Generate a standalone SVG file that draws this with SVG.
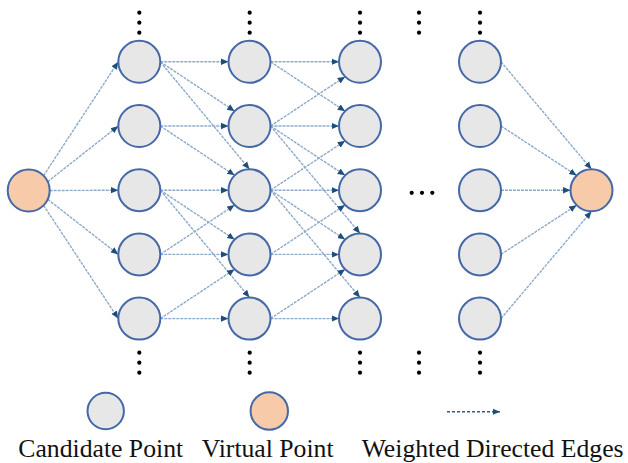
<svg xmlns="http://www.w3.org/2000/svg" width="628" height="463" viewBox="0 0 628 463">
<style>
.cand{fill:#e7e7e7;stroke:#4468a8;stroke-width:2}
.virt{fill:#f7cba9;stroke:#4468a8;stroke-width:2}
.e{stroke:#8eaacb;stroke-width:1.4;stroke-dasharray:3 1;fill:none;marker-end:url(#ah)}
.dot{fill:#000}
.lbl{font-size:25.7px;fill:#111}
</style>
<defs>
<marker id="ah" markerUnits="userSpaceOnUse" markerWidth="8" markerHeight="8" viewBox="0 0 8 8" refX="7.5" refY="4" orient="auto">
<path d="M0,0.8 L7.5,4 L0,7.2 Z" fill="#1f4e79"/>
</marker>
</defs>
<rect width="628" height="463" fill="#fff"/>
<g id="connectors">
<line class="e" x1="43.55" y1="175.65" x2="118.3" y2="61.8"/>
<line class="e" x1="47.73" y1="181.63" x2="118.3" y2="126"/>
<line class="e" x1="49.7" y1="190.5" x2="118.3" y2="190.2"/>
<line class="e" x1="47.73" y1="199.37" x2="118.3" y2="254.4"/>
<line class="e" x1="43.55" y1="205.35" x2="118.3" y2="318.6"/>
<line class="e" x1="160.3" y1="61.8" x2="228.5" y2="61.8"/>
<line class="e" x1="160.3" y1="61.8" x2="234.65" y2="111.15"/>
<line class="e" x1="160.3" y1="61.8" x2="249.5" y2="169.2"/>
<line class="e" x1="160.3" y1="126" x2="228.5" y2="126"/>
<line class="e" x1="160.3" y1="126" x2="234.65" y2="175.35"/>
<line class="e" x1="160.3" y1="190.2" x2="228.5" y2="190.2"/>
<line class="e" x1="160.3" y1="190.2" x2="234.65" y2="239.55"/>
<line class="e" x1="160.3" y1="190.2" x2="249.5" y2="297.6"/>
<line class="e" x1="160.3" y1="254.4" x2="234.65" y2="205.05"/>
<line class="e" x1="160.3" y1="254.4" x2="228.5" y2="254.4"/>
<line class="e" x1="160.3" y1="318.6" x2="234.65" y2="269.25"/>
<line class="e" x1="160.3" y1="318.6" x2="228.5" y2="318.6"/>
<line class="e" x1="270.5" y1="61.8" x2="339" y2="61.8"/>
<line class="e" x1="270.5" y1="61.8" x2="345.15" y2="111.15"/>
<line class="e" x1="270.5" y1="126" x2="345.15" y2="76.65"/>
<line class="e" x1="270.5" y1="126" x2="339" y2="126"/>
<line class="e" x1="270.5" y1="126" x2="345.15" y2="175.35"/>
<line class="e" x1="270.5" y1="126" x2="360" y2="233.4"/>
<line class="e" x1="270.5" y1="190.2" x2="345.15" y2="140.85"/>
<line class="e" x1="270.5" y1="190.2" x2="339" y2="190.2"/>
<line class="e" x1="270.5" y1="190.2" x2="345.15" y2="239.55"/>
<line class="e" x1="270.5" y1="190.2" x2="360" y2="297.6"/>
<line class="e" x1="270.5" y1="254.4" x2="345.15" y2="205.05"/>
<line class="e" x1="270.5" y1="254.4" x2="339" y2="254.4"/>
<line class="e" x1="270.5" y1="318.6" x2="345.15" y2="269.25"/>
<line class="e" x1="270.5" y1="318.6" x2="339" y2="318.6"/>
<line class="e" x1="501" y1="61.8" x2="591.5" y2="169.3"/>
<line class="e" x1="501" y1="126" x2="576.65" y2="175.45"/>
<line class="e" x1="501" y1="190.2" x2="570.5" y2="190.3"/>
<line class="e" x1="501" y1="254.4" x2="576.65" y2="205.15"/>
<line class="e" x1="501" y1="318.6" x2="591.5" y2="211.3"/>
</g>
<g id="virtual-start"><circle class="virt" cx="28.7" cy="190.5" r="21"/></g>
<g id="virtual-end"><circle class="virt" cx="591.5" cy="190.3" r="21"/></g>
<g id="col1">
<circle class="cand" cx="139.3" cy="61.8" r="21"/>
<circle class="cand" cx="139.3" cy="126" r="21"/>
<circle class="cand" cx="139.3" cy="190.2" r="21"/>
<circle class="cand" cx="139.3" cy="254.4" r="21"/>
<circle class="cand" cx="139.3" cy="318.6" r="21"/>
</g>
<g id="col2">
<circle class="cand" cx="249.5" cy="61.8" r="21"/>
<circle class="cand" cx="249.5" cy="126" r="21"/>
<circle class="cand" cx="249.5" cy="190.2" r="21"/>
<circle class="cand" cx="249.5" cy="254.4" r="21"/>
<circle class="cand" cx="249.5" cy="318.6" r="21"/>
</g>
<g id="col3">
<circle class="cand" cx="360" cy="61.8" r="21"/>
<circle class="cand" cx="360" cy="126" r="21"/>
<circle class="cand" cx="360" cy="190.2" r="21"/>
<circle class="cand" cx="360" cy="254.4" r="21"/>
<circle class="cand" cx="360" cy="318.6" r="21"/>
</g>
<g id="col4">
<circle class="cand" cx="480" cy="61.8" r="21"/>
<circle class="cand" cx="480" cy="126" r="21"/>
<circle class="cand" cx="480" cy="190.2" r="21"/>
<circle class="cand" cx="480" cy="254.4" r="21"/>
<circle class="cand" cx="480" cy="318.6" r="21"/>
</g>
<g id="ellipses">
<circle class="dot" cx="139.3" cy="12.7" r="2.1"/><circle class="dot" cx="139.3" cy="22.7" r="2.1"/><circle class="dot" cx="139.3" cy="32.7" r="2.1"/>
<circle class="dot" cx="249.7" cy="12.7" r="2.1"/><circle class="dot" cx="249.7" cy="22.7" r="2.1"/><circle class="dot" cx="249.7" cy="32.7" r="2.1"/>
<circle class="dot" cx="360" cy="12.7" r="2.1"/><circle class="dot" cx="360" cy="22.7" r="2.1"/><circle class="dot" cx="360" cy="32.7" r="2.1"/>
<circle class="dot" cx="419" cy="12.7" r="2.1"/><circle class="dot" cx="419" cy="22.7" r="2.1"/><circle class="dot" cx="419" cy="32.7" r="2.1"/>
<circle class="dot" cx="480" cy="12.7" r="2.1"/><circle class="dot" cx="480" cy="22.7" r="2.1"/><circle class="dot" cx="480" cy="32.7" r="2.1"/>
<circle class="dot" cx="139.3" cy="352.7" r="2.1"/><circle class="dot" cx="139.3" cy="362.7" r="2.1"/><circle class="dot" cx="139.3" cy="372.7" r="2.1"/>
<circle class="dot" cx="249.7" cy="352.7" r="2.1"/><circle class="dot" cx="249.7" cy="362.7" r="2.1"/><circle class="dot" cx="249.7" cy="372.7" r="2.1"/>
<circle class="dot" cx="360" cy="352.7" r="2.1"/><circle class="dot" cx="360" cy="362.7" r="2.1"/><circle class="dot" cx="360" cy="372.7" r="2.1"/>
<circle class="dot" cx="419" cy="352.7" r="2.1"/><circle class="dot" cx="419" cy="362.7" r="2.1"/><circle class="dot" cx="419" cy="372.7" r="2.1"/>
<circle class="dot" cx="480" cy="352.7" r="2.1"/><circle class="dot" cx="480" cy="362.7" r="2.1"/><circle class="dot" cx="480" cy="372.7" r="2.1"/>
<circle class="dot" cx="411.7" cy="192.8" r="2.1"/><circle class="dot" cx="422" cy="192.8" r="2.1"/><circle class="dot" cx="432.3" cy="192.8" r="2.1"/>
</g>
<g id="legend">
<circle class="cand" cx="105.7" cy="411" r="18.2"/>
<circle class="virt" cx="269.3" cy="411" r="18.7"/>
<line x1="447" y1="411.7" x2="500" y2="411.7" stroke="#2e5c8e" stroke-width="1.5" stroke-dasharray="3 2" marker-end="url(#ah)"/>
<g font-family="'Liberation Serif', 'DejaVu Serif', serif">
<text class="lbl" x="18.3" y="457.3">Candidate Point</text>
<text class="lbl" x="201.7" y="457.3">Virtual Point</text>
<text class="lbl" x="361.7" y="457.3">Weighted Directed Edges</text>
</g>
</g>
</svg>
